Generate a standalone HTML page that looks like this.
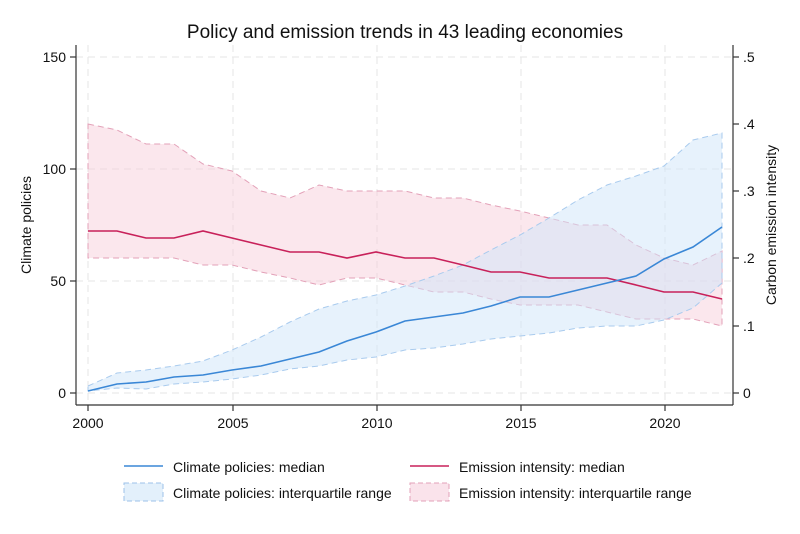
<!DOCTYPE html>
<html><head><meta charset="utf-8"><style>body{margin:0;background:#fff}svg{display:block}</style></head><body>
<svg width="800" height="534" viewBox="0 0 800 534" xmlns="http://www.w3.org/2000/svg" font-family="Liberation Sans, Arial, sans-serif">
<rect width="800" height="534" fill="#fff"/>
<g stroke="#e6e6e6" stroke-width="1" stroke-dasharray="7,5" fill="none">
<line x1="76" y1="57" x2="732" y2="57"/><line x1="76" y1="169" x2="732" y2="169"/><line x1="76" y1="281" x2="732" y2="281"/><line x1="76" y1="393" x2="732" y2="393"/>
<line x1="88" y1="45" x2="88" y2="404"/><line x1="233" y1="45" x2="233" y2="404"/><line x1="377" y1="45" x2="377" y2="404"/><line x1="521" y1="45" x2="521" y2="404"/><line x1="665" y1="45" x2="665" y2="404"/>
</g>
<polygon points="88,124 117,130 146,144 174,144 203,164 232,171 261,191 290,198 319,185 347,191 376,191 405,191 434,198 463,198 491,205 520,211 549,218 578,225 607,225 636,245 664,258 693,265 722,251 722,326 693,319 664,319 636,319 607,312 578,305 549,305 520,305 491,299 463,292 434,292 405,285 376,278 347,278 319,285 290,278 261,272 232,265 203,265 174,258 146,258 117,258 88,258" fill="#f7c9d8" fill-opacity="0.45" stroke="#e3a1b8" stroke-width="1" stroke-dasharray="6,4"/>
<polygon points="88,386 117,373 146,370 174,366 203,361 232,350 261,337 290,322 319,309 347,301 376,295 405,286 434,276 463,265 491,250 520,235 549,218 578,200 607,185 636,176 664,166 693,140 722,133 722,283 693,308 664,320 636,326 607,326 578,328 549,333 520,336 491,339 463,344 434,348 405,350 376,357 347,360 319,366 290,369 261,375 232,379 203,382 174,384 146,389 117,388 88,391" fill="#cfe5f9" fill-opacity="0.5" stroke="#a9cbee" stroke-width="1" stroke-dasharray="6,4"/>
<polyline points="88,231 117,231 146,238 174,238 203,231 232,238 261,245 290,252 319,252 347,258 376,252 405,258 434,258 463,265 491,272 520,272 549,278 578,278 607,278 636,285 664,292 693,292 722,299" fill="none" stroke="#c8215a" stroke-width="1.6"/>
<polyline points="88,391 117,384 146,382 174,377 203,375 232,370 261,366 290,359 319,352 347,341 376,332 405,321 434,317 463,313 491,306 520,297 549,297 578,290 607,283 636,276 664,259 693,247 722,227" fill="none" stroke="#3a87d6" stroke-width="1.6"/>
<g stroke="#333" stroke-width="1.2" fill="none">
<line x1="76" y1="45" x2="76" y2="405"/><line x1="733" y1="45" x2="733" y2="405"/><line x1="76" y1="405" x2="733" y2="405"/>
<line x1="70" y1="57" x2="76" y2="57"/><line x1="70" y1="169" x2="76" y2="169"/><line x1="70" y1="281" x2="76" y2="281"/><line x1="70" y1="393" x2="76" y2="393"/>
<line x1="733" y1="57" x2="739" y2="57"/><line x1="733" y1="124" x2="739" y2="124"/><line x1="733" y1="191" x2="739" y2="191"/><line x1="733" y1="258" x2="739" y2="258"/><line x1="733" y1="326" x2="739" y2="326"/><line x1="733" y1="393" x2="739" y2="393"/>
<line x1="88" y1="405" x2="88" y2="411"/><line x1="233" y1="405" x2="233" y2="411"/><line x1="377" y1="405" x2="377" y2="411"/><line x1="521" y1="405" x2="521" y2="411"/><line x1="665" y1="405" x2="665" y2="411"/>
</g>
<g font-size="14" fill="#111">
<text x="66" y="62" text-anchor="end">150</text><text x="66" y="174" text-anchor="end">100</text><text x="66" y="286" text-anchor="end">50</text><text x="66" y="398" text-anchor="end">0</text>
<text x="743" y="62">.5</text><text x="743" y="129">.4</text><text x="743" y="196">.3</text><text x="743" y="263">.2</text><text x="743" y="331">.1</text><text x="743" y="398">0</text>
<text x="88" y="428" text-anchor="middle">2000</text><text x="233" y="428" text-anchor="middle">2005</text><text x="377" y="428" text-anchor="middle">2010</text><text x="521" y="428" text-anchor="middle">2015</text><text x="665" y="428" text-anchor="middle">2020</text>
<text x="31" y="225" text-anchor="middle" transform="rotate(-90 31 225)">Climate policies</text>
<text x="776" y="225" text-anchor="middle" transform="rotate(-90 776 225)">Carbon emission intensity</text>
<text x="405" y="38" text-anchor="middle" font-size="19">Policy and emission trends in 43 leading economies</text>
<text x="173" y="472">Climate policies: median</text>
<text x="459" y="472">Emission intensity: median</text>
<text x="173" y="498">Climate policies: interquartile range</text>
<text x="459" y="498">Emission intensity: interquartile range</text>
</g>
<line x1="124" y1="466" x2="163" y2="466" stroke="#3a87d6" stroke-width="1.5"/>
<line x1="410" y1="466" x2="449" y2="466" stroke="#c8215a" stroke-width="1.5"/>
<rect x="124" y="483" width="39" height="18" fill="#e3f0fb" stroke="#9cc2ea" stroke-dasharray="5,3"/>
<rect x="410" y="483" width="39" height="18" fill="#fae3eb" stroke="#e3a1b8" stroke-dasharray="5,3"/>
</svg>
</body></html>
